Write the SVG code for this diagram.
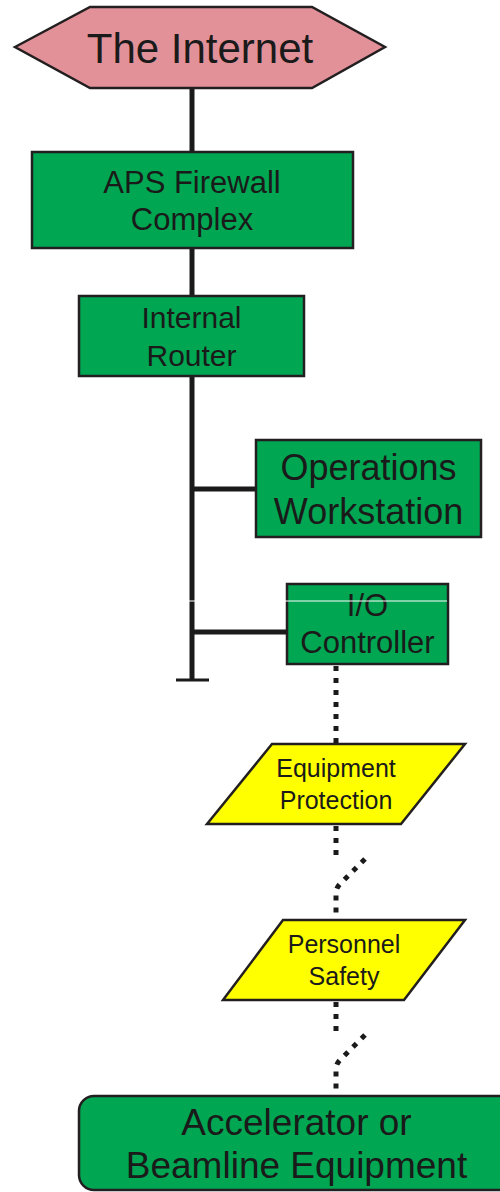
<svg xmlns="http://www.w3.org/2000/svg" width="500" height="1192" viewBox="0 0 500 1192">
  <style>
    .box { fill: #00A651; stroke: #231F20; stroke-width: 2.5; }
    .hex { fill: #E39199; stroke: #231F20; stroke-width: 2.5; }
    .para { fill: #FFFF00; stroke: #231F20; stroke-width: 2.5; }
    .wire { stroke: #1A1A1A; stroke-width: 5; fill: none; }
    .dots { stroke: #1A1A1A; stroke-width: 5; fill: none; stroke-dasharray: 5 7; }
    text { font-family: "Liberation Sans", Arial, sans-serif; fill: #1A1A1A; text-anchor: middle; }
  </style>
  <rect width="500" height="1192" fill="#FFFFFF"/>

  <!-- connectors -->
  <g id="connectors">
    <line class="wire" x1="192" y1="88" x2="192" y2="152"/>
    <line class="wire" x1="192" y1="248" x2="192" y2="296"/>
    <line class="wire" x1="192" y1="376" x2="192" y2="680"/>
    <line x1="176" y1="680" x2="209" y2="680" stroke="#1A1A1A" stroke-width="3"/>
    <line class="wire" x1="192" y1="489" x2="256" y2="489"/>
    <line class="wire" x1="192" y1="632" x2="287" y2="632"/>
    <!-- serial links with break marks -->
    <line class="dots" x1="336" y1="666" x2="336" y2="744"/>
    <line class="dots" x1="336" y1="826" x2="336" y2="858"/>
    <path class="dots" d="M365,859 L340,884 Q336,888 336,893 L336,920"/>
    <line class="dots" x1="336" y1="1002" x2="336" y2="1032"/>
    <path class="dots" d="M365,1035 L340,1060 Q336,1064 336,1069 L336,1096"/>
  </g>

  <g id="internet">
    <polygon class="hex" points="15,47 90,7 312,7 385,47 312,88 90,88"/>
    <text x="200" y="63" font-size="42">The Internet</text>
  </g>

  <g id="firewall">
    <rect class="box" x="32" y="152" width="321" height="96"/>
    <text x="192" y="193" font-size="31">APS Firewall</text>
    <text x="192" y="230" font-size="31">Complex</text>
  </g>

  <g id="router">
    <rect class="box" x="79" y="296" width="225" height="80"/>
    <text x="191.5" y="328" font-size="30">Internal</text>
    <text x="191.5" y="366" font-size="30">Router</text>
  </g>

  <g id="workstation">
    <rect class="box" x="256" y="440" width="225" height="97"/>
    <text x="368.5" y="480" font-size="36">Operations</text>
    <text x="368.5" y="524" font-size="36">Workstation</text>
  </g>

  <g id="ioc">
    <rect class="box" x="287" y="584" width="161" height="80"/>
    <text x="367.5" y="616" font-size="31">I/O</text>
    <text x="367.5" y="653" font-size="31">Controller</text>
  </g>

  <!-- thin white scan line across the bus and controller -->
  <line x1="186" y1="601" x2="447" y2="601" stroke="#FFFFFF" stroke-width="1"/>

  <g id="equipment-protection">
    <polygon class="para" points="272,744 465,744 401,824 207,824"/>
    <text x="336" y="777" font-size="25">Equipment</text>
    <text x="336" y="809" font-size="25">Protection</text>
  </g>

  <g id="personnel-safety">
    <polygon class="para" points="283,920 465,920 404,1000 223,1000"/>
    <text x="344" y="953" font-size="25">Personnel</text>
    <text x="344" y="985" font-size="25">Safety</text>
  </g>

  <g id="equipment">
    <rect class="box" x="79" y="1096" width="435" height="94" rx="15" ry="15"/>
    <text x="296.5" y="1135" font-size="37">Accelerator or</text>
    <text x="296.5" y="1178" font-size="37">Beamline Equipment</text>
  </g>
</svg>
